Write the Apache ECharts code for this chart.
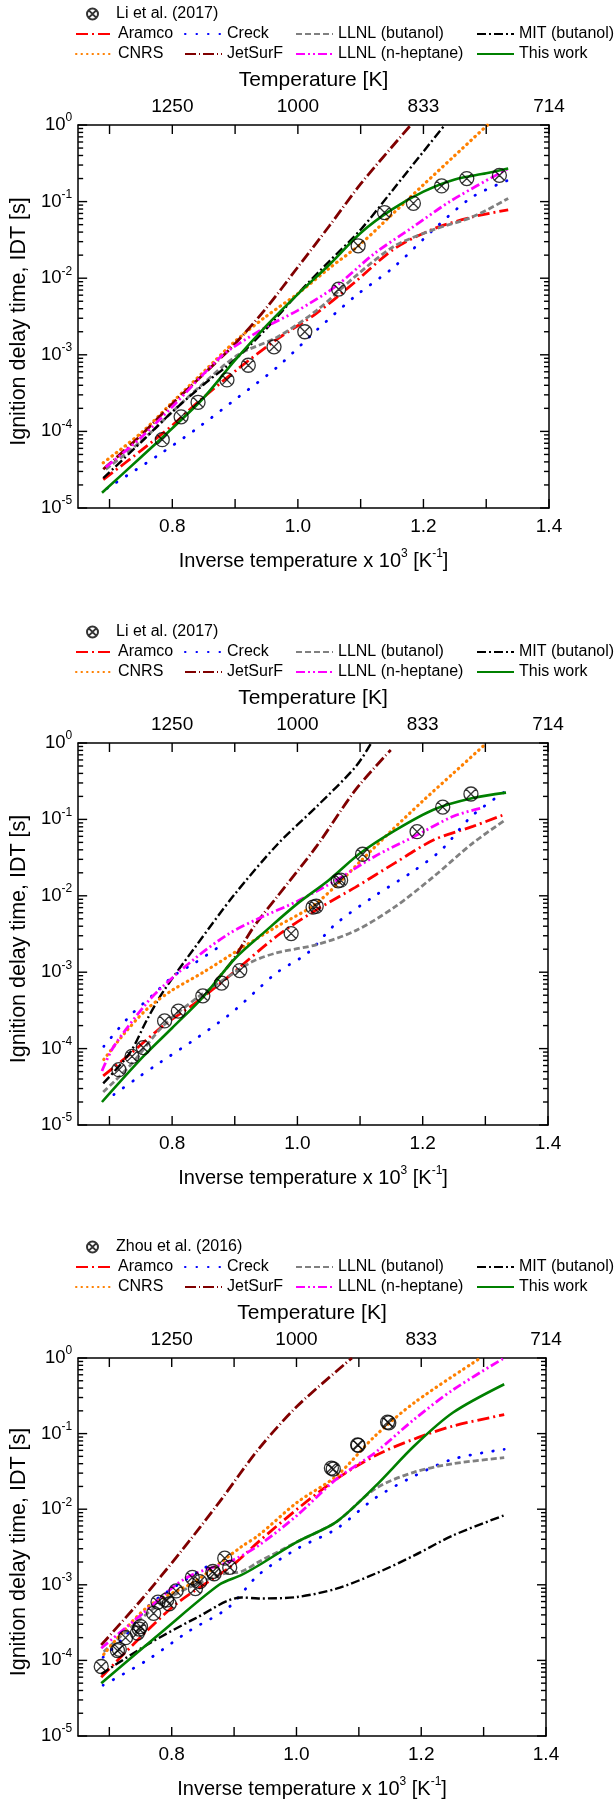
<!DOCTYPE html>
<html>
<head>
<meta charset="utf-8">
<script src="https://cdn.jsdelivr.net/npm/echarts@6.0.0/dist/echarts.min.js"></script>
<style>
  html, body { margin: 0; padding: 0; background: #fff; }
  #chart { width: 616px; height: 1803px; }
</style>
</head>
<body>
<div id="chart"></div>
<script>
(function () {
  'use strict';

  // ---- axis labels / ticks ----
  const X_RANGE = [0.65, 1.4];
  const Y_RANGE = [1e-5, 1];
  const X_TICKS = [0.7, 0.8, 0.9, 1.0, 1.1, 1.2, 1.3, 1.4];
  const X_LABELS = [0.8, 1.0, 1.2, 1.4];
  const TEMP_LABELS = ['1250', '1000', '833', '714'];
  const Y_DECADES = [1e-5, 1e-4, 1e-3, 1e-2, 1e-1, 1];
  const Y_MINOR_MULT = [2, 3, 4, 5, 6, 7, 8, 9];

  const MODELS = ['Aramco', 'Creck', 'LLNL (butanol)', 'MIT (butanol)',
                  'CNRS', 'JetSurF', 'LLNL (n-heptane)', 'This work'];

  // ---- panel 1 : Li et al. (2017) ----
  const p1Exp = [[0.784, 7.8e-5], [0.814, 1.55e-4], [0.841, 2.4e-4], [0.887, 4.7e-4], [0.921, 7.3e-4],
    [0.962, 1.27e-3], [1.011, 2.0e-3], [1.065, 7.2e-3], [1.096, 2.65e-2], [1.138, 7.2e-2],
    [1.184, 9.5e-2], [1.229, 0.16], [1.269, 0.2], [1.321, 0.22]];
  const p1Aramco = [[0.69, 2.35e-5], [0.75, 5.6e-5], [0.8, 1.2e-4], [0.843, 2.5e-4], [0.905, 6.6e-4],
    [0.967, 1.6e-3], [1.03, 3.5e-3], [1.091, 8.9e-3], [1.153, 2.4e-2], [1.216, 4.4e-2], [1.278, 6.3e-2], [1.335, 7.8e-2]];
  const p1Creck = [[0.696, 1.8e-5], [0.781, 5.1e-5], [0.843, 1.15e-4], [0.905, 2.8e-4], [0.967, 6.9e-4],
    [1.03, 2.1e-3], [1.091, 5.8e-3], [1.153, 1.4e-2], [1.216, 4.3e-2], [1.278, 0.115], [1.335, 0.19]];
  const p1LlnlBut = [[0.694, 3.2e-5], [0.75, 7.4e-5], [0.8, 1.8e-4], [0.843, 3.8e-4], [0.905, 1.0e-3],
    [0.967, 1.7e-3], [1.03, 3.8e-3], [1.091, 1.05e-2], [1.153, 2.6e-2], [1.216, 4.3e-2], [1.278, 6.3e-2], [1.335, 0.11]];
  const p1Mit = [[0.69, 2.45e-5], [0.75, 7.2e-5], [0.8, 1.8e-4], [0.85, 4.1e-4], [0.9, 8.7e-4], [0.95, 2.2e-3],
    [1.0, 6.3e-3], [1.05, 1.66e-2], [1.1, 4.3e-2], [1.15, 0.138], [1.2, 0.45], [1.234, 1.0]];
  const p1Cnrs = [[0.69, 3.9e-5], [0.75, 9.5e-5], [0.8, 2.4e-4], [0.85, 6.0e-4], [0.9, 1.5e-3], [0.95, 3.2e-3],
    [1.0, 6.3e-3], [1.05, 1.35e-2], [1.1, 2.8e-2], [1.15, 6.8e-2], [1.2, 0.166], [1.25, 0.4], [1.302, 1.0]];
  const p1JetSurF = [[0.69, 3.2e-5], [0.75, 8.9e-5], [0.8, 2.3e-4], [0.85, 5.6e-4], [0.9, 1.4e-3], [0.95, 4.1e-3],
    [1.0, 1.4e-2], [1.05, 4.8e-2], [1.1, 0.17], [1.15, 0.52], [1.18, 1.0]];
  const p1LlnlHep = [[0.694, 3.4e-5], [0.75, 8.3e-5], [0.8, 2.1e-4], [0.875, 9.1e-4], [0.9, 1.3e-3], [0.955, 2.45e-3],
    [1.0, 3.8e-3], [1.06, 7.8e-3], [1.122, 2.1e-2], [1.184, 4.7e-2], [1.246, 0.105], [1.335, 0.27]];
  const p1ThisWork = [[0.688, 1.58e-5], [0.75, 4.6e-5], [0.8, 1.1e-4], [0.85, 2.75e-4], [0.9, 8.5e-4], [0.95, 2.4e-3],
    [1.0, 6.2e-3], [1.05, 1.5e-2], [1.1, 3.9e-2], [1.15, 7.9e-2], [1.2, 0.135], [1.25, 0.195], [1.3, 0.234], [1.335, 0.27]];

  // ---- panel 2 : Li et al. (2017) ----
  const p2Exp = [[0.715, 5.3e-5], [0.736, 7.9e-5], [0.754, 1.03e-4], [0.788, 2.3e-4], [0.81, 3.1e-4],
    [0.849, 4.9e-4], [0.879, 7.2e-4], [0.908, 1.05e-3], [0.99, 3.2e-3], [1.025, 7.1e-3], [1.03, 7.3e-3],
    [1.065, 1.57e-2], [1.069, 1.6e-2], [1.104, 3.5e-2], [1.191, 6.9e-2], [1.232, 0.145], [1.277, 0.215]];
  const p2Aramco = [[0.69, 4.4e-5], [0.733, 8.5e-5], [0.786, 2.0e-4], [0.838, 4.0e-4], [0.891, 8.9e-4],
    [0.968, 3.0e-3], [1.031, 6.6e-3], [1.093, 1.3e-2], [1.156, 2.7e-2], [1.218, 5.4e-2], [1.28, 8.1e-2], [1.333, 0.118]];
  const p2CreckHi = [[0.691, 1.07e-4], [0.733, 2.7e-4], [0.77, 5.1e-4], [0.802, 8.9e-4], [0.838, 1.35e-3], [0.873, 2.1e-3]];
  const p2CreckLo = [[0.707, 2.5e-5], [0.744, 4.1e-5], [0.781, 6.6e-5], [0.838, 1.35e-4], [0.894, 2.9e-4],
    [0.94, 6.3e-4], [0.968, 1.0e-3], [1.017, 1.8e-3], [1.06, 4.2e-3], [1.122, 9.8e-3], [1.185, 2.1e-2],
    [1.23, 4.0e-2], [1.278, 0.11], [1.331, 0.23]];
  const p2LlnlBut = [[0.69, 2.7e-5], [0.733, 6.0e-5], [0.786, 2.0e-4], [0.838, 4.5e-4], [0.891, 8.9e-4],
    [0.93, 1.4e-3], [0.968, 1.8e-3], [1.031, 2.3e-3], [1.093, 3.5e-3], [1.156, 7.2e-3], [1.218, 1.8e-2],
    [1.28, 4.9e-2], [1.333, 0.1]];
  const p2Mit = [[0.69, 3.5e-5], [0.733, 8.9e-5], [0.76, 2.4e-4], [0.786, 5.6e-4], [0.838, 2.2e-3],
    [0.9, 1.05e-2], [0.968, 4.7e-2], [1.031, 0.148], [1.093, 0.49], [1.118, 1.0]];
  const p2Cnrs = [[0.691, 7.2e-5], [0.723, 1.55e-4], [0.76, 3.3e-4], [0.8, 5.8e-4], [0.85, 1.0e-3],
    [0.912, 2.1e-3], [0.968, 4.0e-3], [1.025, 7.4e-3], [1.067, 1.5e-2], [1.1, 2.8e-2], [1.15, 7.1e-2],
    [1.2, 0.174], [1.25, 0.41], [1.302, 1.0]];
  const p2JetSurF = [[0.868, 7.4e-4], [0.896, 1.4e-3], [0.931, 4.0e-3], [0.968, 9.8e-3], [1.031, 4.5e-2],
    [1.093, 0.245], [1.149, 0.81]];
  const p2LlnlHep = [[0.688, 5.1e-5], [0.707, 1.07e-4], [0.76, 4.0e-4], [0.786, 6.6e-4], [0.838, 1.55e-3],
    [0.891, 3.2e-3], [0.937, 5.0e-3], [1.0, 8.5e-3], [1.062, 1.6e-2], [1.124, 3.3e-2], [1.187, 6.0e-2],
    [1.249, 0.11], [1.293, 0.14]];
  const p2ThisWork = [[0.688, 2.0e-5], [0.754, 7.9e-5], [0.8, 1.86e-4], [0.85, 4.8e-4], [0.9, 1.5e-3],
    [0.95, 3.5e-3], [1.0, 7.9e-3], [1.05, 1.6e-2], [1.1, 3.6e-2], [1.156, 7.2e-2], [1.218, 0.135],
    [1.28, 0.19], [1.333, 0.224]];

  // ---- panel 3 : Zhou et al. (2016) ----
  const p3Exp = [[0.687, 8.3e-5], [0.713, 1.35e-4], [0.716, 1.4e-4], [0.726, 2.0e-4], [0.745, 2.3e-4],
    [0.748, 2.6e-4], [0.75, 2.8e-4], [0.771, 4.2e-4], [0.778, 5.9e-4], [0.792, 6.3e-4], [0.796, 5.6e-4],
    [0.807, 8.3e-4], [0.833, 1.25e-3], [0.838, 8.9e-4], [0.845, 1.1e-3], [0.866, 1.5e-3], [0.868, 1.4e-3],
    [0.885, 2.25e-3], [0.893, 1.7e-3], [1.056, 3.5e-2], [1.059, 3.4e-2], [1.098, 7.1e-2], [1.099, 7.0e-2],
    [1.146, 0.142], [1.148, 0.139]];
  const p3Aramco = [[0.687, 6.0e-5], [0.76, 2.45e-4], [0.812, 6.0e-4], [0.897, 1.8e-3], [0.939, 3.7e-3],
    [1.001, 1.0e-2], [1.064, 2.5e-2], [1.126, 5.1e-2], [1.189, 8.5e-2], [1.251, 0.126], [1.333, 0.178]];
  const p3CreckHi = [[0.69, 1.1e-4], [0.723, 2.0e-4], [0.76, 5.0e-4], [0.786, 7.4e-4], [0.849, 1.6e-3], [0.87, 2.0e-3]];
  const p3CreckLo = [[0.69, 4.7e-5], [0.76, 1.0e-4], [0.828, 2.45e-4], [0.891, 5.0e-4], [0.939, 1.35e-3],
    [1.001, 3.0e-3], [1.064, 5.5e-3], [1.126, 1.4e-2], [1.189, 2.75e-2], [1.251, 4.6e-2], [1.333, 6.2e-2]];
  const p3LlnlBut = [[0.691, 1.3e-4], [0.786, 6.0e-4], [0.876, 1.35e-3], [0.912, 1.5e-3], [0.939, 2.0e-3],
    [1.001, 3.7e-3], [1.064, 6.8e-3], [1.126, 1.86e-2], [1.189, 3.1e-2], [1.251, 4.0e-2], [1.333, 4.8e-2]];
  const p3Mit = [[0.687, 6.6e-5], [0.76, 1.6e-4], [0.838, 3.6e-4], [0.912, 6.8e-4], [0.939, 6.6e-4],
    [1.001, 6.9e-4], [1.064, 8.9e-4], [1.126, 1.4e-3], [1.189, 2.45e-3], [1.251, 4.5e-3], [1.333, 8.3e-3]];
  const p3Cnrs = [[0.691, 1.2e-4], [0.76, 5.0e-4], [0.838, 1.12e-3], [0.912, 3.2e-3], [0.939, 4.5e-3],
    [1.001, 1.23e-2], [1.064, 2.75e-2], [1.126, 9.3e-2], [1.189, 0.257], [1.295, 1.0]];
  const p3JetSurF = [[0.687, 1.6e-4], [0.751, 6.3e-4], [0.814, 2.7e-3], [0.876, 1.23e-2], [0.939, 6.2e-2],
    [1.001, 0.23], [1.089, 1.0]];
  const p3LlnlHep = [[0.687, 1.45e-4], [0.751, 4.0e-4], [0.823, 1.23e-3], [0.897, 2.1e-3], [0.939, 3.3e-3],
    [1.001, 8.3e-3], [1.064, 2.5e-2], [1.126, 5.6e-2], [1.189, 0.155], [1.251, 0.38], [1.333, 1.0]];
  const p3ThisWork = [[0.687, 5.0e-5], [0.786, 2.45e-4], [0.876, 1.0e-3], [0.912, 1.35e-3], [0.939, 1.8e-3],
    [1.001, 3.7e-3], [1.064, 6.8e-3], [1.126, 2.0e-2], [1.189, 6.9e-2], [1.251, 0.19], [1.333, 0.45]];

  const PANELS = [
    { expName: 'Li et al. (2017)', exp: p1Exp,
      lines: [['Aramco', p1Aramco], ['Creck', p1Creck], ['LLNL (butanol)', p1LlnlBut], ['MIT (butanol)', p1Mit],
              ['CNRS', p1Cnrs], ['JetSurF', p1JetSurF], ['LLNL (n-heptane)', p1LlnlHep], ['This work', p1ThisWork]] },
    { expName: 'Li et al. (2017)', exp: p2Exp,
      lines: [['Aramco', p2Aramco], ['Creck', p2CreckHi], ['Creck', p2CreckLo], ['LLNL (butanol)', p2LlnlBut],
              ['MIT (butanol)', p2Mit], ['CNRS', p2Cnrs], ['JetSurF', p2JetSurF], ['LLNL (n-heptane)', p2LlnlHep],
              ['This work', p2ThisWork]] },
    { expName: 'Zhou et al. (2016)', exp: p3Exp,
      lines: [['Aramco', p3Aramco], ['Creck', p3CreckHi], ['Creck', p3CreckLo], ['LLNL (butanol)', p3LlnlBut],
              ['MIT (butanol)', p3Mit], ['CNRS', p3Cnrs], ['JetSurF', p3JetSurF], ['LLNL (n-heptane)', p3LlnlHep],
              ['This work', p3ThisWork]] }
  ];

  const STYLE = {
    'Aramco':           { color: '#ff0000', width: 2.8, type: [12, 4, 2, 4] },
    'Creck':            { color: '#0000ff', width: 2.8, type: [0.5, 11], cap: 'round' },
    'LLNL (butanol)':   { color: '#808080', width: 2.8, type: [6, 3] },
    'MIT (butanol)':    { color: '#000000', width: 2.4, type: [9, 3, 2, 3] },
    'CNRS':             { color: '#ff8000', width: 3.2, type: [0.5, 5], cap: 'round' },
    'JetSurF':          { color: '#800000', width: 2.8, type: [11, 3, 1, 3] },
    'LLNL (n-heptane)': { color: '#ff00ff', width: 2.8, type: [9, 3, 2, 3, 2, 3] },
    'This work':        { color: '#008000', width: 2.6, type: 'solid' }
  };

  const FONT = '"Liberation Sans", Arial, sans-serif';
  const MARKER = 'path://M10,0A10,10,0,1,1,10,20A10,10,0,1,1,10,0ZM2.93,2.93L17.07,17.07M17.07,2.93L2.93,17.07';

  const GRID_TOP = [125, 743, 1358];
  const GRID_H = [383, 382, 380];
  const GRID_W = [475, 474, 472];
  const LEGEND_COLS = [75, 184, 295, 476];
  const MAJOR_LEN = 9, MINOR_LEN = 5;

  const Y_MINOR = [];
  Y_DECADES.slice(0, -1).forEach(function (d) {
    Y_MINOR_MULT.forEach(function (m) { Y_MINOR.push(m * d); });
  });

  const el = document.getElementById('chart');
  const chart = echarts.init(el, null, { renderer: 'canvas' });

  const grids = [], xAxes = [], yAxes = [], legends = [], series = [];
  const axisLine = { show: true, onZero: false, lineStyle: { color: '#000', width: 1.5 } };

  // inward ticks on all four sides, placed through the axis scales
  function tickLine(x1, y1, x2, y2) {
    return { type: 'line', shape: { x1: x1, y1: y1, x2: x2, y2: y2 },
      style: { stroke: '#000', lineWidth: 1.4, fill: null } };
  }
  function yTickSeries(g) {
    const data = Y_DECADES.map(function (v) { return [X_RANGE[0], v, MAJOR_LEN]; })
      .concat(Y_MINOR.map(function (v) { return [X_RANGE[0], v, MINOR_LEN]; }));
    return {
      type: 'custom', coordinateSystem: 'cartesian2d', xAxisIndex: 2 * g, yAxisIndex: 2 * g,
      silent: true, clip: false, z: 10,
      dimensions: ['x', 'y', 'len'], encode: { x: 0, y: 1 }, data: data,
      renderItem: function (params, api) {
        const v = api.value(1), len = api.value(2);
        const l = api.coord([X_RANGE[0], v]), r = api.coord([X_RANGE[1], v]);
        return { type: 'group', children: [
          tickLine(l[0], l[1], l[0] + len, l[1]),
          tickLine(r[0], r[1], r[0] - len, r[1])
        ] };
      }
    };
  }
  function xTickSeries(g) {
    return {
      type: 'custom', coordinateSystem: 'cartesian2d', xAxisIndex: 2 * g, yAxisIndex: 2 * g,
      silent: true, clip: false, z: 10,
      encode: { x: 0, y: 1 }, data: X_TICKS.map(function (t) { return [t, Y_RANGE[0]]; }),
      renderItem: function (params, api) {
        const t = api.value(0);
        const b = api.coord([t, Y_RANGE[0]]), u = api.coord([t, Y_RANGE[1]]);
        return { type: 'group', children: [
          tickLine(b[0], b[1], b[0], b[1] - MAJOR_LEN),
          tickLine(u[0], u[1], u[0], u[1] + MAJOR_LEN)
        ] };
      }
    };
  }

  PANELS.forEach(function (p, g) {
    const top = GRID_TOP[g];
    grids.push({ left: 74, top: top, width: GRID_W[g], height: GRID_H[g] });

    const xCommon = {
      type: 'value', gridIndex: g, min: X_RANGE[0], max: X_RANGE[1], splitLine: { show: false },
      axisLine: axisLine, axisTick: { show: false }
    };
    xAxes.push(Object.assign({}, xCommon, {
      position: 'bottom',
      name: 'Inverse temperature x 10{s|3} [K{s|-1}]',
      nameLocation: 'middle', nameGap: 40,
      nameTextStyle: { fontFamily: FONT, fontSize: 20, color: '#000', lineHeight: 26,
        rich: { s: { fontFamily: FONT, fontSize: 12, color: '#000', verticalAlign: 'top', lineHeight: 14 } } },
      axisLabel: { customValues: X_LABELS, margin: 9, fontSize: 19, color: '#000', fontFamily: FONT,
        formatter: function (v) { return v.toFixed(1); } }
    }));
    xAxes.push(Object.assign({}, xCommon, {
      position: 'top',
      name: 'Temperature [K]',
      nameLocation: 'middle', nameGap: 34,
      nameTextStyle: { fontFamily: FONT, fontSize: 21, color: '#000' },
      axisLabel: { customValues: X_LABELS, margin: 9, fontSize: 19, color: '#000', fontFamily: FONT,
        formatter: function (v) {
          const i = X_LABELS.findIndex(function (t) { return Math.abs(t - v) < 1e-6; });
          return i >= 0 ? TEMP_LABELS[i] : '';
        } }
    }));

    const yCommon = { type: 'log', logBase: 10, gridIndex: g, min: Y_RANGE[0], max: Y_RANGE[1],
      splitLine: { show: false }, axisTick: { show: false } };
    yAxes.push(Object.assign({}, yCommon, {
      position: 'left', axisLine: axisLine,
      name: 'Ignition delay time, IDT [s]', nameLocation: 'middle', nameGap: 41, nameRotate: 90,
      nameTextStyle: { fontFamily: FONT, fontSize: 21.5, color: '#000', padding: [0, 10, 0, 0] },
      axisLabel: { customValues: Y_DECADES, margin: 6, color: '#000',
        formatter: function (v) { return '{b|10}{s|' + Math.round(Math.log10(v)) + '}'; },
        rich: {
          b: { fontFamily: FONT, fontSize: 18.5, color: '#000', lineHeight: 26 },
          s: { fontFamily: FONT, fontSize: 12, color: '#000', verticalAlign: 'top', lineHeight: 13 }
        } }
    }));
    yAxes.push(Object.assign({}, yCommon, {
      position: 'right', axisLine: axisLine, axisLabel: { show: false }
    }));

    // legends: experimental row, then four two-row columns
    legends.push({
      data: [p.expName], left: 86, top: top - 119, padding: 0,
      itemWidth: 37, itemHeight: 11,
      textStyle: { fontFamily: FONT, fontSize: 16, color: '#000', lineHeight: 16 }
    });
    LEGEND_COLS.forEach(function (x, c) {
      legends.push({
        data: [MODELS[c], MODELS[c + 4]], orient: 'vertical', left: x, top: top - 99, padding: 0,
        itemWidth: 37, itemHeight: 12, itemGap: 4,
        itemStyle: { opacity: 0 },
        textStyle: { fontFamily: FONT, fontSize: 16, color: '#000', lineHeight: 16 }
      });
    });

    p.lines.forEach(function (l) {
      const s = STYLE[l[0]];
      series.push({
        name: l[0], type: 'line', xAxisIndex: 2 * g, yAxisIndex: 2 * g, data: l[1],
        smooth: 0.3, symbol: 'none', showSymbol: false, silent: true, z: 2,
        lineStyle: { color: s.color, width: s.width, type: s.type, cap: s.cap || 'butt' },
        itemStyle: { color: s.color }
      });
    });
    series.push({
      name: p.expName, type: 'scatter', xAxisIndex: 2 * g, yAxisIndex: 2 * g, data: p.exp,
      symbol: MARKER, symbolSize: 14, symbolKeepAspect: true, z: 5, silent: true,
      itemStyle: { color: 'transparent', borderColor: '#000', borderWidth: 1.3 }
    });
    series.push(yTickSeries(g));
    series.push(xTickSeries(g));
  });

  chart.setOption({
    animation: false,
    textStyle: { fontFamily: FONT, color: '#000' },
    grid: grids,
    legend: legends,
    xAxis: xAxes,
    yAxis: yAxes,
    series: series
  });

  window.addEventListener('resize', function () { chart.resize(); });
})();
</script>
</body>
</html>
